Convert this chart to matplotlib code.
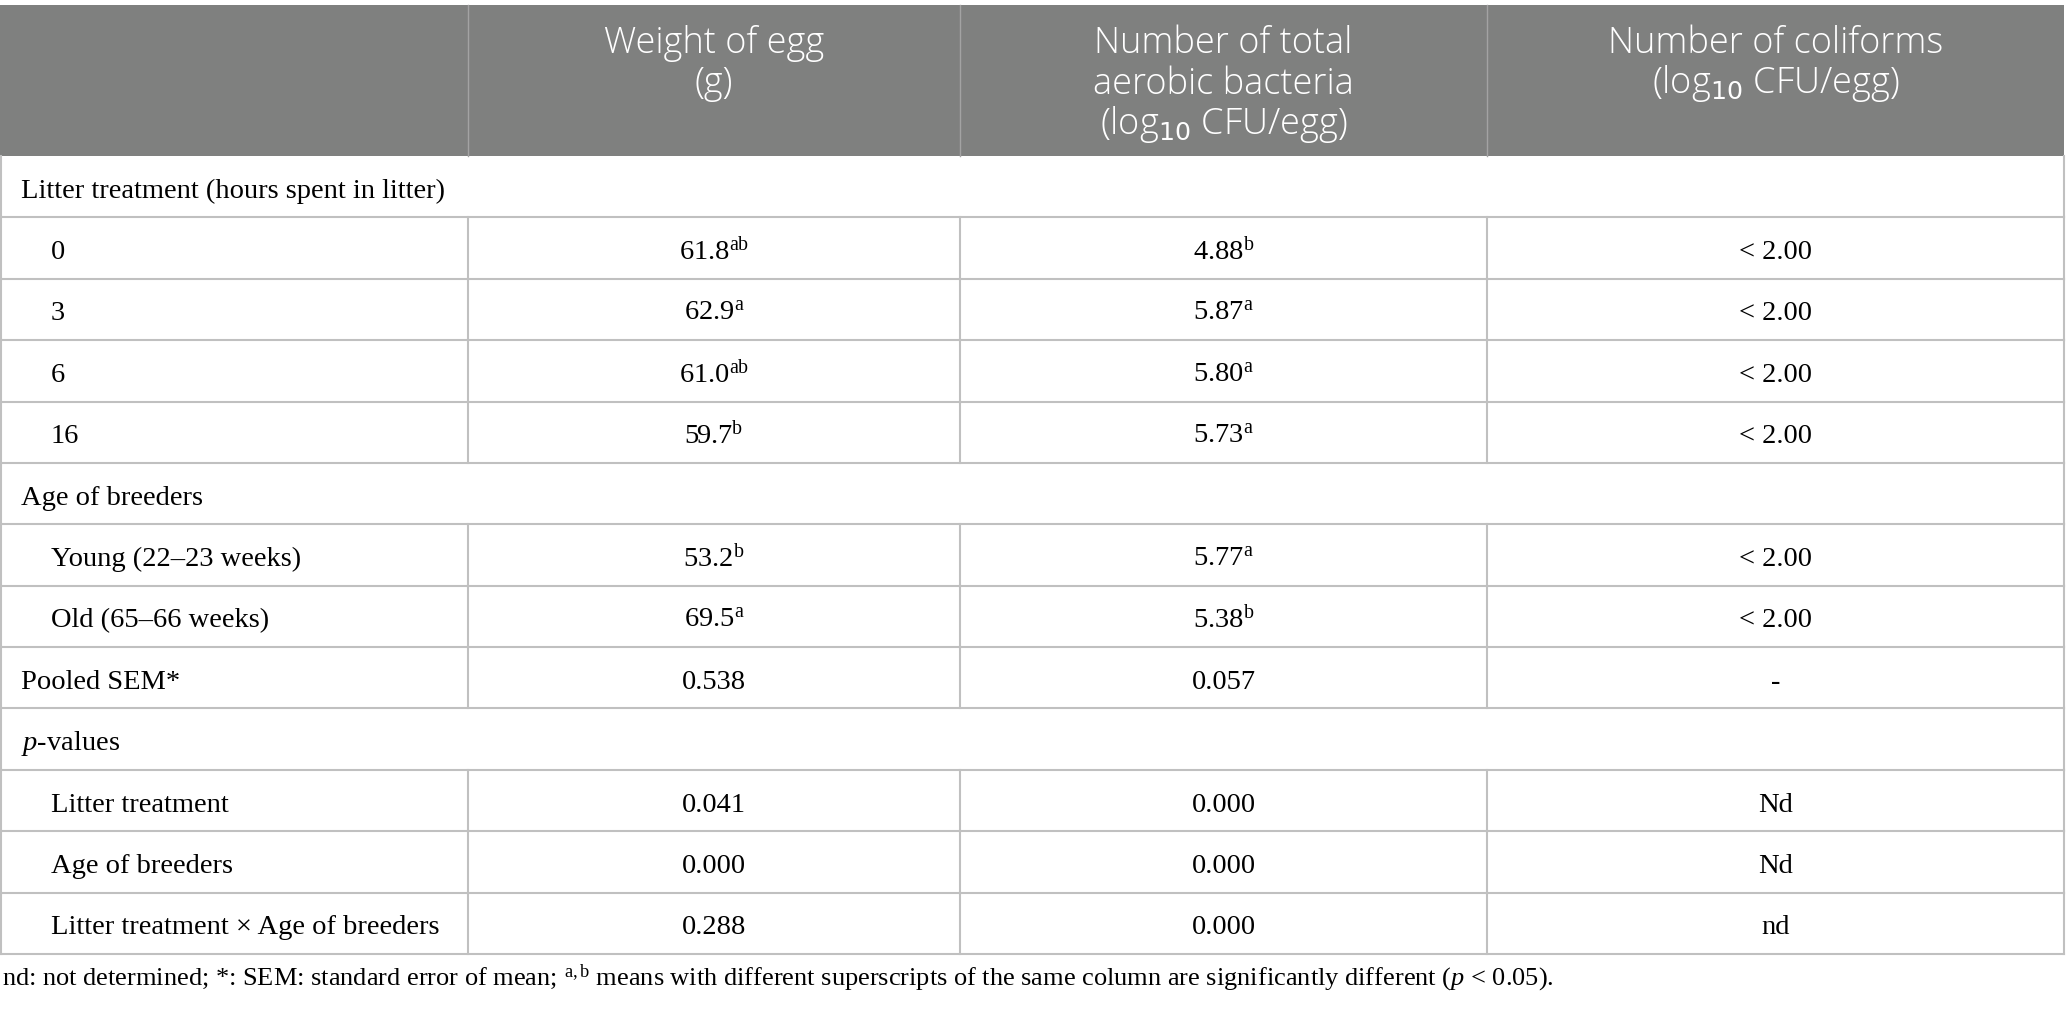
import matplotlib
matplotlib.use('Agg')
import matplotlib.pyplot as plt

plt.rcParams['mathtext.fontset'] = 'custom'
plt.rcParams['mathtext.rm'] = 'Liberation Serif'
plt.rcParams['mathtext.it'] = 'Liberation Serif:italic'

# --- table content ---
col_headers = [
    [],
    ['Weight of egg', '(g)'],
    ['Number of total', 'aerobic bacteria', '(log$_{10}$ CFU/egg)'],
    ['Number of coliforms', '(log$_{10}$ CFU/egg)'],
]
row_labels = ['Litter treatment (hours spent in litter)', '0', '3', '6', '16',
              'Age of breeders', 'Young (22–23 weeks)', 'Old (65–66 weeks)',
              'Pooled SEM*', '$p$-values', 'Litter treatment', 'Age of breeders',
              'Litter treatment × Age of breeders']
section_rows = [0, 5, 9]
indented_rows = [1, 2, 3, 4, 6, 7, 10, 11, 12]

weight = ['61.8', '62.9', '61.0', '59.7', '53.2', '69.5', '0.538', '0.041', '0.000', '0.288']
weight_sup = ['ab', 'a', 'ab', 'b', 'b', 'a', '', '', '', '']
aerobic = ['4.88', '5.87', '5.80', '5.73', '5.77', '5.38', '0.057', '0.000', '0.000', '0.000']
aerobic_sup = ['b', 'a', 'a', 'a', 'a', 'b', '', '', '', '']
coliforms = ['< 2.00'] * 6 + ['-', 'Nd', 'Nd', 'nd']

footnote = ('nd: not determined; *: SEM: standard error of mean; $^{\\mathrm{a,b}}$ means with '
            'different superscripts of the same column are significantly different ($p$ < 0.05).')

# --- layout (pixels) ---
W, H = 2067, 1009
col_x = [0, 468, 960, 1487, 2064]
head_top, head_bot = 5, 156
row_h = (954 - head_bot) / len(row_labels)
line_c = '#c0c0c0'
head_c = '#7f807f'
serif = 'Liberation Serif'
sans = 'Open Sans'
body_fs = 20.5

fig = plt.figure(figsize=(W / 100, H / 100), dpi=100)
ax = fig.add_axes([0, 0, 1, 1])
ax.set_xlim(0, W)
ax.set_ylim(H, 0)
ax.axis('off')

# header
ax.add_patch(plt.Rectangle((col_x[0], head_top), col_x[-1] - col_x[0], head_bot - head_top,
                           facecolor=head_c, edgecolor='none'))
for x in col_x[1:-1]:
    ax.plot([x, x], [head_top, head_bot], color='#a3a3a3', lw=1)
for i, lines in enumerate(col_headers):
    cx = (col_x[i] + col_x[i + 1]) / 2
    for j, t in enumerate(lines):
        ax.text(cx, 53 + j * 40.5, t, ha='center', va='baseline', color='white',
                fontsize=26, family=sans, fontweight='light', math_fontfamily='dejavusans')

# body: data rows sit between the section rows
data_rows = [r for r in range(len(row_labels)) if r not in section_rows]
cells_by_row = dict(zip(data_rows, zip(weight, weight_sup, aerobic, aerobic_sup, coliforms)))

for r, label in enumerate(row_labels):
    y0 = head_bot + r * row_h
    y1 = y0 + row_h
    yb = (y0 + y1) / 2 + 11
    ax.plot([col_x[0], col_x[-1]], [y1, y1], color=line_c, lw=1.5)
    ax.plot([col_x[0] + 0.5, col_x[0] + 0.5], [y0, y1], color=line_c, lw=1.5)
    ax.plot([col_x[-1], col_x[-1]], [y0, y1], color=line_c, lw=1.5)
    x_lab = 51 if r in indented_rows else 21
    ax.text(x_lab, yb, label, ha='left', va='baseline', fontsize=body_fs, family=serif)
    if r in section_rows:
        continue
    for x in col_x[1:-1]:
        ax.plot([x, x], [y0, y1], color=line_c, lw=1.5)
    w, ws, a, as_, c = cells_by_row[r]
    cells = [w + ('$^{\\mathrm{%s}}$' % ws if ws else ''),
             a + ('$^{\\mathrm{%s}}$' % as_ if as_ else ''),
             c]
    for k, t in enumerate(cells):
        cx = (col_x[k + 1] + col_x[k + 2]) / 2
        ax.text(cx, yb, t, ha='center', va='baseline', fontsize=body_fs, family=serif)

ax.text(2, 985, footnote, ha='left', va='baseline', fontsize=19, family=serif)

fig.savefig('out.png', dpi=100)
